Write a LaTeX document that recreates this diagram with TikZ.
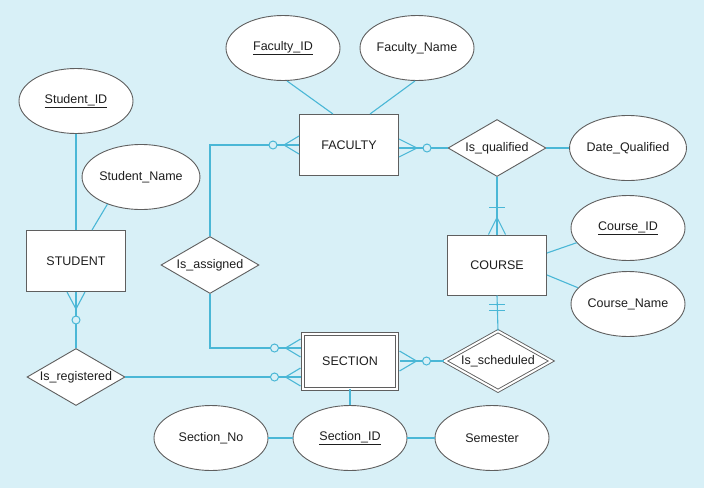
\documentclass[tikz,border=0pt]{standalone}
\usepackage{fontspec}
\setmainfont{Liberation Sans}
\usetikzlibrary{shapes.geometric,calc}
\definecolor{bgc}{RGB}{216,240,247}
\definecolor{lnc}{RGB}{74,183,214}
\definecolor{bdc}{RGB}{95,95,95}
\definecolor{txc}{RGB}{30,30,30}
\begin{document}
\begin{tikzpicture}[x=1pt,y=-1pt,
  font=\fontsize{12.5}{15}\selectfont, text=txc,
  ent/.style={draw=bdc,line width=1pt,fill=white,minimum width=99pt,minimum height=61pt,inner sep=0pt},
  attr/.style={ellipse,draw=bdc,line width=0.9pt,fill=white,minimum width=114pt,minimum height=65pt,inner sep=0pt},
  rel/.style={diamond,aspect=1.72,draw=bdc,line width=0.9pt,fill=white,minimum width=98pt,minimum height=57pt,inner sep=0pt},
  conn/.style={draw=lnc,line width=1.1pt},
  ring/.style={draw=lnc,line width=1pt,fill=bgc}]
\fill[bgc] (0,0) rectangle (704,488);
\useasboundingbox (0,0) rectangle (704,488);

% attributes
\node[attr] (fid) at (283,48) {\underline{Faculty\_ID}};
\node[attr] (fnm) at (417,48) {Faculty\_Name};
\node[attr] (sid) at (76,101) {\underline{Student\_ID}};
\node[attr] (snm) at (141,177) {Student\_Name};
\node[attr] (dq) at (628,148) {Date\_Qualified};
\node[attr] (cid) at (628,228) {\underline{Course\_ID}};
\node[attr] (cnm) at (628,304) {Course\_Name};
\node[attr] (secno) at (211,438) {Section\_No};
\node[attr] (secid) at (350,438) {\underline{Section\_ID}};
\node[attr] (sem) at (492,438) {Semester};

% entities
\node[ent] (stu) at (76,261) {STUDENT};
\node[ent] (fac) at (349,145) {FACULTY};
\node[ent,minimum height=60pt] (crs) at (497,265) {COURSE};
\node[ent,double=white,double distance=2pt,minimum width=94pt,minimum height=55pt] (sec) at (350,361) {SECTION};

% relationships
\node[rel] (isq) at (497,148) {Is\_qualified};
\node[rel] (isa) at (210,265) {Is\_assigned};
\node[rel] (isr) at (76,377) {Is\_registered};
\node[rel,double=white,double distance=2pt,minimum width=107pt,minimum height=60pt] (isch) at (498,361) {Is\_scheduled};

% attribute links
\draw[conn] ($(fid.south)+(4,0)$) -- ($(fac.north)+(-16,0)$);
\draw[conn] ($(fnm.south)+(-2,0)$) -- ($(fac.north)+(21,0)$);
\draw[conn] (sid) -- (stu);
\draw[conn] (snm.219) -- ($(stu.north)+(16,0)$);
\draw[conn] (isq) -- (dq);
\draw[conn] ($(crs.east)+(0,-12)$) -- (cid.196);
\draw[conn] ($(crs.east)+(0,10)$) -- (cnm.162);
\draw[conn] (sec.south) -- (secid.north);
\draw[conn] (secno) -- (secid);
\draw[conn] (secid) -- (sem);

% FACULTY -- Is_assigned
\draw[conn] (isa.north) |- (fac.west);
\draw[conn] ($(fac.west)+(0,-9)$) -- ($(fac.west)+(-15,0)$) -- ($(fac.west)+(0,9)$);
\draw[ring] ($(fac.west)+(-26,0)$) circle[radius=4pt];

% FACULTY -- Is_qualified
\coordinate (fq) at (isq.west -| fac.east);
\draw[conn] (fq) -- (isq.west);
\draw[conn] ($(fq)+(0,-9)$) -- ($(fq)+(18,0)$) -- ($(fq)+(0,9)$);
\draw[ring] ($(fq)+(28,0)$) circle[radius=4pt];

% Is_qualified -- COURSE
\draw[conn] (isq.south) -- (crs.north);
\draw[conn] ($(crs.north)+(-8,-27)$) -- ($(crs.north)+(8,-27)$);
\draw[conn] ($(crs.north)+(-8.5,0)$) -- ($(crs.north)+(0,-17)$) -- ($(crs.north)+(8.5,0)$);

% COURSE -- Is_scheduled
\draw[conn] (crs.south) -- (isch.north);
\draw[conn] ($(crs.south)+(-8,9)$) -- ($(crs.south)+(8,9)$);
\draw[conn] ($(crs.south)+(-8,15)$) -- ($(crs.south)+(8,15)$);

% SECTION -- Is_scheduled
\coordinate (ss) at ($(sec.east)+(2,0)$);
\draw[conn] (ss) -- (isch.west);
\draw[conn] ($(ss)+(0,-10)$) -- ($(ss)+(17,0)$) -- ($(ss)+(0,10)$);
\draw[ring] ($(ss)+(27,0)$) circle[radius=4pt];

% SECTION -- Is_assigned
\coordinate (sa) at ($(sec.west)+(-2,-13)$);
\draw[conn] (isa.south) |- (sa);
\draw[conn] ($(sa)+(0,-9)$) -- ($(sa)+(-15,0)$) -- ($(sa)+(0,9)$);
\draw[ring] ($(sa)+(-26,0)$) circle[radius=4pt];

% SECTION -- Is_registered
\coordinate (sr) at ($(isr.east -| sec.west)+(-2,0)$);
\draw[conn] (isr.east) -- (sr);
\draw[conn] ($(sr)+(0,-9)$) -- ($(sr)+(-15,0)$) -- ($(sr)+(0,9)$);
\draw[ring] ($(sr)+(-26,0)$) circle[radius=4pt];

% STUDENT -- Is_registered
\draw[conn] (stu.south) -- (isr.north);
\draw[conn] ($(stu.south)+(-9,0)$) -- ($(stu.south)+(0,17)$) -- ($(stu.south)+(9,0)$);
\draw[ring] ($(stu.south)+(0,28)$) circle[radius=4pt];
\end{tikzpicture}
\end{document}
